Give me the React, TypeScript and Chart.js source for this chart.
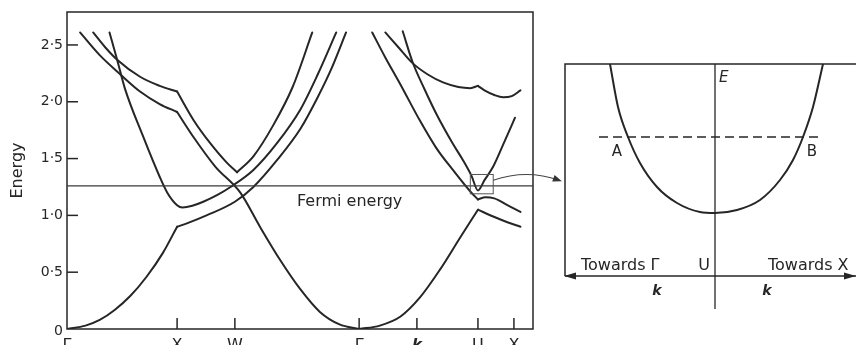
import React, { useEffect, useRef } from 'react';
import { Chart, registerables } from 'chart.js';

Chart.register(...registerables);

// ---------- Main band-structure panel ----------
const kTicks = [0, 1.01, 1.54, 2.68, 3.21, 3.77, 4.1];
const kTickLabels = ['Γ', 'X', 'W', 'Γ', 'k', 'U', 'X'];
const kMax = 4.275;
const energyTicks = [0, 0.5, 1.0, 1.5, 2.0, 2.5];
const energyTickLabels = ['0', '0·5', '1·0', '1·5', '2·0', '2·5'];
const energyMax = 2.79;
const fermiEnergy = 1.26;
const fermiLabel = 'Fermi energy';
const fermiLabelK = 2.11;
const yTitle = 'Energy';

// band segments as [k, E]
const band1GX = [[0, 0], [0.17, 0.03], [0.3, 0.08], [0.44, 0.17], [0.58, 0.29], [0.73, 0.46], [0.88, 0.67], [1.01, 0.9]];
const band1XG = [[1.01, 0.9], [1.1, 0.93], [1.28, 1.0], [1.54, 1.12], [1.71, 1.25], [1.93, 1.49], [2.14, 1.76], [2.3, 2.04], [2.43, 2.3], [2.56, 2.61]];
const band2 = [[0.39, 2.61], [0.46, 2.37], [0.53, 2.12], [0.7, 1.69], [0.85, 1.34], [0.92, 1.2], [1.01, 1.09], [1.06, 1.07], [1.15, 1.085], [1.25, 1.12], [1.38, 1.18], [1.5, 1.25], [1.71, 1.4], [1.93, 1.64], [2.14, 1.93], [2.3, 2.24], [2.47, 2.61]];
const band3GX = [[0.12, 2.61], [0.3, 2.41], [0.49, 2.24], [0.67, 2.09], [0.85, 1.98], [1.01, 1.91]];
const band3XG = [[1.01, 1.91], [1.16, 1.69], [1.36, 1.43], [1.59, 1.2], [1.77, 0.9], [1.96, 0.6], [2.14, 0.35], [2.32, 0.15], [2.5, 0.04], [2.68, 0]];
const band3GU = [[2.68, 0], [2.87, 0.03], [3.06, 0.11], [3.24, 0.28], [3.42, 0.52], [3.61, 0.81], [3.77, 1.05]];
const band3UX = [[3.77, 1.05], [3.91, 0.99], [4.04, 0.94], [4.16, 0.9]];
const band4GX = [[0.24, 2.61], [0.35, 2.48], [0.46, 2.37], [0.67, 2.22], [0.85, 2.14], [1.01, 2.09]];
const band4XW = [[1.01, 2.09], [1.16, 1.84], [1.31, 1.64], [1.47, 1.46], [1.56, 1.38]];
const band4WG = [[1.56, 1.38], [1.71, 1.52], [1.89, 1.79], [2.07, 2.13], [2.25, 2.61]];
const curveA1 = [[2.8, 2.61], [2.92, 2.39], [3.06, 2.15], [3.24, 1.83], [3.39, 1.59], [3.54, 1.4], [3.7, 1.21], [3.77, 1.14]];
const curveA2 = [[3.77, 1.14], [3.84, 1.16], [3.92, 1.15], [4.04, 1.09], [4.16, 1.03]];
const curveB1 = [[2.92, 2.61], [3.04, 2.48], [3.17, 2.34], [3.31, 2.24], [3.45, 2.17], [3.59, 2.13], [3.7, 2.12], [3.77, 2.14]];
const curveB2 = [[3.77, 2.14], [3.83, 2.1], [3.92, 2.06], [4.0, 2.04], [4.08, 2.05], [4.16, 2.1]];
const curveC = [[3.08, 2.62], [3.17, 2.35], [3.28, 2.11], [3.39, 1.89], [3.54, 1.63], [3.63, 1.49], [3.71, 1.35], [3.77, 1.22], [3.83, 1.31], [3.91, 1.43], [4.0, 1.62], [4.11, 1.86]];

// zoom box around U
const boxK = [3.7, 3.91];
const boxE = [1.19, 1.36];

// ---------- Inset (near U) ----------
const insetK = [-1.05, -0.97, -0.87, -0.75, -0.58, -0.38, -0.15, 0, 0.22, 0.45, 0.65, 0.78, 0.88, 0.98, 1.08];
const insetE = [2.12, 1.69, 1.39, 1.13, 0.89, 0.73, 0.64, 0.63, 0.66, 0.76, 0.96, 1.16, 1.39, 1.69, 2.12];
const insetLevel = 1.39;
const insetLevelK = [-1.16, 1.08];
const insetKRange = [-1.5, 1.41];
const insetERange = [0, 2.12];
const insetAxisBottom = -0.33;

const FONT = '"DejaVu Sans", sans-serif';
const INK = '#262626';

const toPts = (s: number[][]) => s.map(([x, y]) => ({ x, y }));

const mainSegments = [band1GX, band1XG, band2, band3GX, band3XG, band3GU, band3UX, band4GX, band4XW, band4WG, curveA1, curveA2, curveB1, curveB2, curveC];

function arrowHead(ctx: CanvasRenderingContext2D, tx: number, ty: number, fx: number, fy: number, len: number, half: number) {
  const ang = Math.atan2(ty - fy, tx - fx);
  ctx.beginPath();
  ctx.moveTo(tx, ty);
  ctx.lineTo(tx - len * Math.cos(ang) + half * Math.sin(ang), ty - len * Math.sin(ang) - half * Math.cos(ang));
  ctx.lineTo(tx - len * Math.cos(ang) - half * Math.sin(ang), ty - len * Math.sin(ang) + half * Math.cos(ang));
  ctx.closePath();
  ctx.fill();
}

const mainDecor = {
  id: 'mainDecor',
  afterDraw(chart: any) {
    const { ctx, chartArea: a, scales } = chart;
    const xs = scales.x;
    const ys = scales.y;
    ctx.save();
    ctx.strokeStyle = INK;
    ctx.fillStyle = INK;
    ctx.lineWidth = 1.5;
    ctx.strokeRect(a.left, a.top, a.right - a.left, a.bottom - a.top);

    // Fermi line
    const yf = ys.getPixelForValue(fermiEnergy);
    ctx.lineWidth = 1.3;
    ctx.strokeStyle = '#3a3a32';
    ctx.beginPath();
    ctx.moveTo(a.left, yf);
    ctx.lineTo(a.right, yf);
    ctx.stroke();
    ctx.font = `16px ${FONT}`;
    ctx.textAlign = 'left';
    ctx.textBaseline = 'alphabetic';
    ctx.fillText(fermiLabel, xs.getPixelForValue(fermiLabelK), yf + 20);

    // y ticks
    ctx.strokeStyle = INK;
    ctx.lineWidth = 1.5;
    ctx.font = `14px ${FONT}`;
    ctx.textAlign = 'right';
    ctx.textBaseline = 'middle';
    energyTicks.forEach((v, i) => {
      const y = ys.getPixelForValue(v);
      if (v > 0) {
        ctx.beginPath();
        ctx.moveTo(a.left, y);
        ctx.lineTo(a.left + 11, y);
        ctx.stroke();
      }
      ctx.fillText(energyTickLabels[i], a.left - 4, v === 0 ? y + 2 : y);
    });

    // x ticks
    ctx.textAlign = 'center';
    ctx.textBaseline = 'alphabetic';
    kTicks.forEach((v, i) => {
      const x = xs.getPixelForValue(v);
      if (v > 0) {
        ctx.beginPath();
        ctx.moveTo(x, a.bottom);
        ctx.lineTo(x, a.bottom - 11);
        ctx.stroke();
      }
      ctx.font = kTickLabels[i] === 'k' ? `italic bold 15px ${FONT}` : `16px ${FONT}`;
      ctx.fillText(kTickLabels[i], x, a.bottom + 21);
    });

    // y title
    ctx.save();
    ctx.translate(22, (a.top + a.bottom) / 2);
    ctx.rotate(-Math.PI / 2);
    ctx.font = `16px ${FONT}`;
    ctx.textAlign = 'center';
    ctx.textBaseline = 'alphabetic';
    ctx.fillText(yTitle, 0, 0);
    ctx.restore();

    // zoom box
    const bx0 = xs.getPixelForValue(boxK[0]);
    const bx1 = xs.getPixelForValue(boxK[1]);
    const by0 = ys.getPixelForValue(boxE[1]);
    const by1 = ys.getPixelForValue(boxE[0]);
    ctx.lineWidth = 1;
    ctx.strokeStyle = '#555';
    ctx.strokeRect(bx0, by0, bx1 - bx0, by1 - by0);

    // connector arrow
    const sx = bx1;
    const sy = ys.getPixelForValue(1.31);
    const cx = xs.getPixelForValue(4.22);
    const cy = ys.getPixelForValue(1.41);
    const tx = xs.getPixelForValue(4.54);
    const ty = ys.getPixelForValue(1.3);
    ctx.lineWidth = 1.1;
    ctx.strokeStyle = '#444';
    ctx.beginPath();
    ctx.moveTo(sx, sy);
    ctx.quadraticCurveTo(cx, cy, tx - 3, ty - 1);
    ctx.stroke();
    ctx.fillStyle = '#333';
    arrowHead(ctx, tx, ty, cx, cy, 9, 3.5);
    ctx.restore();
  },
};

const insetDecor = {
  id: 'insetDecor',
  afterDraw(chart: any) {
    const { ctx, chartArea: a, scales } = chart;
    const xs = scales.x;
    const ys = scales.y;
    ctx.save();
    ctx.strokeStyle = INK;
    ctx.fillStyle = INK;
    ctx.lineWidth = 1.5;
    // frame: top and left
    ctx.beginPath();
    ctx.moveTo(a.right, a.top);
    ctx.lineTo(a.left, a.top);
    ctx.lineTo(a.left, a.bottom);
    ctx.stroke();
    // k axis
    const y0 = ys.getPixelForValue(0);
    ctx.beginPath();
    ctx.moveTo(a.left, y0);
    ctx.lineTo(a.right, y0);
    ctx.stroke();
    arrowHead(ctx, a.left - 1, y0, a.left + 20, y0, 12, 3.5);
    arrowHead(ctx, a.right, y0, a.right - 20, y0, 12, 3.5);
    // E axis
    const x0 = xs.getPixelForValue(0);
    ctx.lineWidth = 1.3;
    ctx.beginPath();
    ctx.moveTo(x0, a.top);
    ctx.lineTo(x0, ys.getPixelForValue(insetAxisBottom));
    ctx.stroke();

    // labels
    ctx.textBaseline = 'alphabetic';
    ctx.font = `italic 15px ${FONT}`;
    ctx.textAlign = 'left';
    ctx.fillText('E', x0 + 4, a.top + 18);
    ctx.font = `15px ${FONT}`;
    ctx.textAlign = 'center';
    const yl = ys.getPixelForValue(insetLevel);
    ctx.fillText('A', xs.getPixelForValue(-0.98), yl + 19);
    ctx.fillText('B', xs.getPixelForValue(0.97), yl + 19);
    ctx.font = `16px ${FONT}`;
    ctx.textAlign = 'left';
    ctx.fillText('Towards Γ', xs.getPixelForValue(-1.34), y0 - 6);
    ctx.fillText('Towards X', xs.getPixelForValue(0.53), y0 - 6);
    ctx.textAlign = 'center';
    ctx.fillText('U', x0 - 11, y0 - 6);
    ctx.font = `italic bold 14px ${FONT}`;
    ctx.fillText('k', xs.getPixelForValue(-0.58), y0 + 19);
    ctx.fillText('k', xs.getPixelForValue(0.52), y0 + 19);
    ctx.restore();
  },
};

export default function App() {
  const mainRef = useRef<HTMLCanvasElement>(null);
  const insetRef = useRef<HTMLCanvasElement>(null);

  useEffect(() => {
    if (!mainRef.current || !insetRef.current) return;
    const lineStyle = {
      showLine: true,
      borderColor: INK,
      borderWidth: 2,
      pointRadius: 0,
      pointHoverRadius: 0,
      cubicInterpolationMode: 'monotone' as const,
      borderJoinStyle: 'round' as const,
      borderCapStyle: 'round' as const,
      fill: false,
    };
    const main = new Chart(mainRef.current, {
      type: 'scatter',
      data: {
        datasets: mainSegments.map((s) => ({ ...lineStyle, data: toPts(s) })),
      },
      options: {
        responsive: false,
        animation: false,
        events: [],
        layout: { padding: { left: 67, right: 323, top: 12, bottom: 16 } },
        scales: {
          x: { type: 'linear', min: 0, max: kMax, display: false },
          y: { type: 'linear', min: 0, max: energyMax, display: false },
        },
        plugins: { legend: { display: false }, tooltip: { enabled: false } },
      },
      plugins: [mainDecor],
    });

    const inset = new Chart(insetRef.current, {
      type: 'scatter',
      data: {
        datasets: [
          { ...lineStyle, data: insetK.map((k, i) => ({ x: k, y: insetE[i] })) },
          {
            ...lineStyle,
            cubicInterpolationMode: 'default' as const,
            borderWidth: 1.5,
            borderDash: [9, 5],
            borderCapStyle: 'butt' as const,
            data: insetLevelK.map((k) => ({ x: k, y: insetLevel })),
          },
        ],
      },
      options: {
        responsive: false,
        animation: false,
        events: [],
        layout: { padding: { left: 5, right: 0, top: 24, bottom: 69 } },
        scales: {
          x: { type: 'linear', min: insetKRange[0], max: insetKRange[1], display: false },
          y: { type: 'linear', min: insetERange[0], max: insetERange[1], display: false },
        },
        plugins: { legend: { display: false }, tooltip: { enabled: false } },
      },
      plugins: [insetDecor],
    });

    return () => {
      main.destroy();
      inset.destroy();
    };
  }, []);

  return (
    <div style={{ position: 'fixed', left: 0, top: 0, width: 856, height: 345, background: '#ffffff', overflow: 'hidden' }}>
      <canvas ref={mainRef} width={856} height={345} style={{ position: 'absolute', left: 0, top: 0, width: 856, height: 345 }} />
      <canvas ref={insetRef} width={296} height={305} style={{ position: 'absolute', left: 560, top: 40, width: 296, height: 305 }} />
    </div>
  );
}
